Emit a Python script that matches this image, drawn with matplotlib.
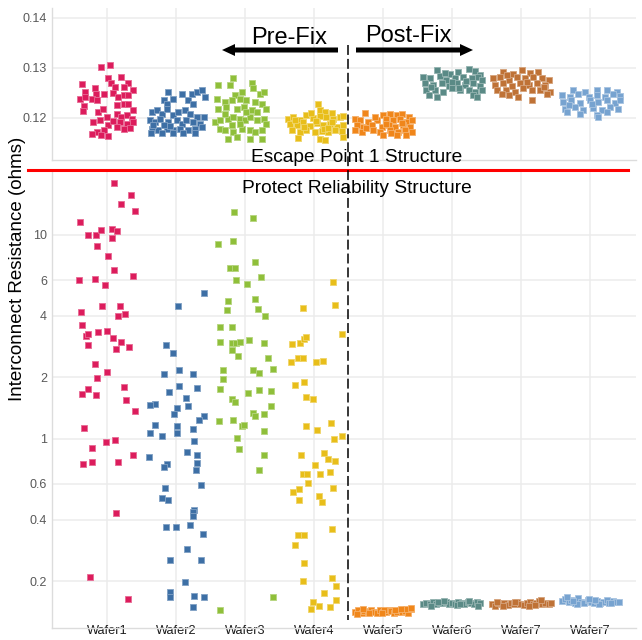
import matplotlib
matplotlib.use("Agg")
import matplotlib.pyplot as plt
import numpy as np
from matplotlib.lines import Line2D
from matplotlib.patches import FancyArrow
from matplotlib.ticker import NullLocator
from matplotlib.colors import to_rgb

plt.rcParams['font.family'] = ['Liberation Sans', 'DejaVu Sans']

# ---------------- data ----------------
wafers = ["Wafer1", "Wafer2", "Wafer3", "Wafer4", "Wafer5", "Wafer6", "Wafer7", "Wafer7"]
colors = ["#dc1c5c", "#3d6fa5", "#8fbf3a", "#e8be1a", "#f0861a", "#5a8a86", "#bf7236", "#77a3d0"]

y_top_ticks = [0.12, 0.13, 0.14]
y_bot_ticks = [0.2, 0.4, 0.6, 1, 2, 4, 6, 10]
y_bot_labels = ["0.2", "0.4", "0.6", "1", "2", "4", "6", "10"]

# Escape Point 1 Structure (top panel): value and horizontal jitter per wafer
w1_top_val = [0.1303,0.1306,0.1268,0.1253,0.1238,0.1224,0.1214,0.1261,0.1248,0.1248,0.1239,0.1236,0.1279,0.1269,0.1263,0.1283,0.1271,0.1263,0.1256,0.1251,0.1243,0.1247,0.1246,0.1226,0.1229,0.1228,0.1216,0.1213,0.1219,0.1193,0.1196,0.1203,0.1186,0.1176,0.1173,0.1169,0.1166,0.1164,0.1209,0.1203,0.1206,0.1199,0.1193,0.1189,0.1193,0.1183,0.1179,0.1181,0.1195,0.1243]
w1_top_jit = [-0.08,0.04,-0.36,-0.32,-0.39,-0.33,-0.35,-0.18,-0.16,-0.05,-0.22,-0.15,0.02,0.06,0.12,0.21,0.30,0.25,0.37,0.09,0.16,0.24,0.31,0.14,0.24,0.31,0.37,-0.13,-0.06,-0.20,-0.10,0.00,0.02,-0.05,-0.15,-0.22,-0.08,0.02,0.14,0.21,0.29,0.36,0.19,0.29,0.38,0.14,0.24,0.33,0.09,-0.32]
w2_top_val = [0.1253,0.1249,0.1249,0.1253,0.1256,0.1243,0.1236,0.1229,0.1239,0.1236,0.1229,0.1213,0.1216,0.1209,0.1219,0.1206,0.1213,0.1216,0.1209,0.1203,0.1203,0.1196,0.1193,0.1199,0.1193,0.1196,0.1189,0.1196,0.1193,0.1189,0.1179,0.1176,0.1179,0.1176,0.1179,0.1176,0.1179,0.1183,0.1186,0.1186,0.1184,0.1170,0.1170,0.1170,0.1170,0.1170]
w2_top_jit = [-0.11,0.08,0.23,0.30,0.37,0.42,-0.18,-0.13,-0.04,0.18,0.25,-0.35,-0.28,-0.21,-0.13,-0.04,0.03,0.13,0.20,0.30,0.40,-0.38,-0.30,-0.23,-0.11,0.01,0.08,0.15,0.25,0.35,-0.35,-0.26,-0.13,-0.04,0.06,0.18,0.28,0.37,-0.33,-0.18,-0.09,-0.36,-0.20,-0.05,0.10,0.27]
w3_top_val = [0.1279,0.1266,0.1266,0.1269,0.1259,0.1253,0.1246,0.1249,0.1253,0.1233,0.1239,0.1236,0.1239,0.1236,0.1233,0.1229,0.1219,0.1223,0.1219,0.1223,0.1216,0.1213,0.1219,0.1193,0.1196,0.1199,0.1203,0.1199,0.1196,0.1203,0.1196,0.1199,0.1189,0.1179,0.1176,0.1173,0.1179,0.1176,0.1173,0.1176,0.1159,0.1163,0.1159,0.1159,0.1189,0.1186,0.1213,0.1209]
w3_top_jit = [-0.17,-0.22,-0.39,0.10,0.12,-0.05,-0.14,0.22,0.27,-0.29,-0.41,-0.19,-0.07,0.02,0.14,0.24,-0.39,-0.27,-0.12,-0.02,0.10,0.17,0.31,-0.43,-0.36,-0.24,-0.17,-0.07,0.00,0.07,0.17,0.27,0.31,-0.36,-0.29,-0.17,-0.05,0.07,0.14,0.24,-0.24,-0.12,0.07,0.24,-0.07,-0.19,0.02,-0.29]
w4_top_val = [0.1229,0.1216,0.1213,0.1211,0.1199,0.1203,0.1197,0.1206,0.1200,0.1204,0.1202,0.1198,0.1203,0.1205,0.1189,0.1186,0.1192,0.1185,0.1190,0.1187,0.1189,0.1183,0.1186,0.1176,0.1173,0.1177,0.1173,0.1175,0.1172,0.1176,0.1174,0.1161,0.1159,0.1156,0.1163,0.1196,0.1195,0.1193,0.1179,0.1210,0.1181,0.1182]
w4_top_jit = [0.06,0.09,0.16,0.26,-0.37,-0.30,-0.20,-0.11,-0.01,0.09,0.18,0.28,0.38,0.42,-0.35,-0.25,-0.16,-0.06,0.04,0.13,0.23,0.33,0.42,-0.32,-0.20,-0.11,0.01,0.11,0.21,0.30,0.40,-0.23,0.09,0.16,0.42,-0.28,0.03,0.26,0.14,-0.05,0.20,-0.15]
w5_top_val = [0.1211,0.1206,0.1209,0.1206,0.1209,0.1203,0.1199,0.1196,0.1193,0.1196,0.1199,0.1196,0.1199,0.1193,0.1196,0.1186,0.1183,0.1186,0.1183,0.1186,0.1183,0.1186,0.1183,0.1176,0.1173,0.1176,0.1173,0.1176,0.1173,0.1176,0.1173,0.1166,0.1166,0.1166,0.1203,0.1189,0.1180,0.1190,0.1170]
w5_top_jit = [-0.26,0.00,0.10,0.20,0.27,0.37,-0.41,-0.33,-0.21,-0.09,0.05,0.15,0.25,0.34,0.42,-0.38,-0.29,-0.16,-0.02,0.08,0.17,0.29,0.39,-0.41,-0.31,-0.14,-0.04,0.10,0.22,0.32,0.42,0.00,0.20,0.34,-0.12,0.05,-0.24,0.28,0.12]
w6_top_val = [0.1296,0.1289,0.1293,0.1299,0.1295,0.1286,0.1283,0.1279,0.1284,0.1276,0.1279,0.1283,0.1279,0.1283,0.1276,0.1269,0.1266,0.1269,0.1264,0.1269,0.1266,0.1269,0.1264,0.1256,0.1257,0.1253,0.1259,0.1256,0.1257,0.1253,0.1256,0.1246,0.1243,0.1246,0.1243,0.1272,0.1290,0.1274,0.1262,0.1261]
w6_top_jit = [-0.22,-0.03,0.09,0.24,0.33,0.41,-0.42,-0.32,-0.17,-0.08,0.04,0.16,0.29,0.38,0.43,-0.39,-0.27,-0.15,-0.05,0.07,0.19,0.31,0.41,-0.37,-0.25,-0.13,0.00,0.12,0.24,0.33,0.43,-0.34,-0.22,0.31,0.36,0.00,-0.10,0.20,-0.30,0.10]
w7_top_val = [0.1293,0.1289,0.1296,0.1291,0.1293,0.1279,0.1283,0.1276,0.1283,0.1279,0.1283,0.1279,0.1276,0.1266,0.1269,0.1264,0.1269,0.1266,0.1269,0.1266,0.1256,0.1257,0.1253,0.1259,0.1256,0.1257,0.1253,0.1246,0.1243,0.1236,0.1249,0.1249,0.1273,0.1287,0.1262]
w7_top_jit = [-0.26,-0.11,0.01,0.13,0.25,-0.40,-0.30,-0.18,-0.06,0.06,0.18,0.30,0.40,-0.38,-0.26,-0.13,-0.01,0.11,0.23,0.35,-0.35,-0.21,-0.09,0.03,0.16,0.28,0.42,-0.18,-0.04,0.16,0.37,-0.28,0.08,-0.20,0.33]
w8_top_val = [0.1257,0.1253,0.1256,0.1257,0.1253,0.1246,0.1243,0.1249,0.1243,0.1246,0.1243,0.1248,0.1244,0.1233,0.1236,0.1231,0.1236,0.1233,0.1236,0.1231,0.1236,0.1219,0.1223,0.1217,0.1221,0.1217,0.1223,0.1219,0.1213,0.1209,0.1206,0.1203,0.1213,0.1228,0.1226]
w8_top_jit = [-0.24,-0.07,0.10,0.24,0.39,-0.41,-0.29,-0.17,-0.02,0.10,0.22,0.34,0.43,-0.39,-0.27,-0.14,0.00,0.12,0.24,0.36,0.44,-0.36,-0.22,-0.10,0.05,0.17,0.29,0.41,-0.34,-0.14,0.10,0.12,0.24,0.03,-0.30]

# Protect Reliability Structure (bottom panel, log scale)
w1_bot_val = [18.0,15.7,14.2,13.1,11.6,10.0,10.0,10.6,10.7,10.4,9.7,8.8,7.9,6.7,6.0,6.1,6.3,5.7,4.5,4.5,4.2,4.0,4.1,3.6,3.2,3.26,3.35,3.38,3.12,2.99,2.87,2.75,2.83,2.32,2.12,1.99,1.80,1.76,1.66,1.64,1.55,1.37,1.13,0.96,0.99,0.90,0.83,0.75,0.77,0.77,0.43,0.21,0.163]
w1_bot_jit = [0.10,0.35,0.21,0.40,-0.39,-0.28,-0.16,-0.08,0.07,0.14,0.07,-0.15,0.01,0.10,-0.40,-0.18,0.37,-0.03,-0.07,0.19,-0.38,0.16,0.26,-0.36,-0.30,-0.28,-0.13,0.00,0.09,0.21,-0.27,0.13,0.32,-0.18,0.00,-0.14,0.24,-0.28,-0.36,-0.16,0.28,0.41,-0.34,-0.01,0.12,-0.22,0.38,-0.35,-0.22,0.16,0.13,-0.24,0.30]
w2_bot_val = [5.16,4.49,2.89,2.62,2.08,2.18,2.08,1.69,1.82,1.78,1.59,1.48,1.46,1.42,1.44,1.30,1.24,1.33,1.17,1.15,1.12,1.07,1.03,1.07,0.98,0.857,0.835,0.816,0.754,0.723,0.763,0.70,0.595,0.571,0.514,0.503,0.445,0.435,0.419,0.379,0.369,0.369,0.343,0.288,0.255,0.255,0.199,0.177,0.168,0.169,0.167,0.150]
w2_bot_jit = [0.40,0.03,-0.15,-0.04,-0.17,0.04,0.25,-0.10,0.04,0.30,0.14,-0.31,-0.38,0.02,0.18,0.40,0.33,-0.03,-0.30,0.01,0.25,-0.37,-0.20,0.01,0.26,0.16,0.30,-0.39,-0.13,-0.18,0.30,0.29,0.36,-0.16,-0.20,-0.11,0.26,0.24,0.25,0.21,-0.14,0.00,0.39,0.16,-0.09,0.36,0.13,-0.08,-0.09,0.26,0.40,0.25]
w3_bot_val = [13.0,12.1,9.03,9.38,7.32,6.89,6.86,6.20,6.02,5.71,4.73,4.86,4.29,4.32,3.98,3.55,3.54,2.98,2.94,2.95,2.99,3.06,2.96,2.73,2.56,2.49,2.21,2.17,2.17,2.11,1.97,1.75,1.73,1.71,1.67,1.57,1.52,1.45,1.22,1.23,1.15,1.17,1.34,1.30,1.32,1.09,1.01,0.886,0.832,0.703,0.168,0.145]
w3_bot_jit = [-0.16,0.11,-0.39,-0.17,0.14,-0.22,-0.14,0.23,-0.13,0.03,-0.24,0.14,-0.26,0.19,0.29,-0.36,-0.19,-0.36,-0.19,-0.13,-0.07,0.06,0.28,-0.19,-0.10,0.33,0.40,-0.32,0.12,0.20,-0.32,-0.36,0.20,0.37,0.05,-0.19,-0.14,0.38,-0.38,-0.17,-0.05,-0.01,0.11,0.15,0.27,0.27,-0.12,-0.09,0.27,0.20,0.40,-0.36]
w4_bot_val = [5.84,4.55,4.37,3.25,2.90,2.94,3.08,3.17,2.38,2.48,2.50,2.38,2.41,1.83,1.89,1.61,1.56,1.19,1.16,1.10,1.00,1.03,0.829,0.854,0.80,0.774,0.74,0.674,0.672,0.669,0.689,0.604,0.548,0.564,0.571,0.521,0.491,0.502,0.362,0.336,0.336,0.300,0.245,0.2006,0.208,0.189,0.175,0.162,0.159,0.146,0.151,0.150]
w4_bot_jit = [0.27,0.30,-0.16,0.40,-0.32,-0.20,-0.14,-0.12,-0.33,-0.23,-0.16,0.03,0.13,-0.28,-0.14,-0.12,-0.01,0.24,-0.12,0.05,0.29,0.41,-0.19,0.15,0.21,0.31,0.02,-0.16,-0.10,0.08,0.23,-0.08,-0.30,-0.22,0.28,0.07,0.11,-0.22,0.26,-0.23,-0.15,-0.28,-0.14,-0.16,0.26,0.32,0.15,0.32,-0.02,-0.04,0.07,0.23]
w5_bot_val = [0.141,0.144,0.139,0.143,0.141,0.145,0.142,0.140,0.144,0.142,0.141,0.145,0.143,0.139,0.142,0.144,0.141,0.143,0.140,0.146,0.138,0.139,0.145,0.144,0.146,0.148,0.146,0.139,0.147]
w5_bot_jit = [-0.41,-0.36,-0.31,-0.27,-0.22,-0.18,-0.13,-0.09,-0.05,0.00,0.04,0.08,0.12,0.16,0.20,0.24,0.28,0.32,0.36,0.40,-0.38,-0.20,0.02,0.18,0.34,0.41,-0.29,-0.02,0.26]
w6_bot_val = [0.154,0.157,0.155,0.158,0.154,0.157,0.156,0.159,0.155,0.157,0.154,0.158,0.156,0.155,0.158,0.156,0.154,0.159,0.156,0.152,0.160,0.153,0.160,0.152,0.158,0.155]
w6_bot_jit = [-0.42,-0.37,-0.32,-0.28,-0.23,-0.18,-0.14,-0.09,-0.04,0.00,0.05,0.09,0.14,0.18,0.23,0.27,0.32,0.36,0.41,-0.30,-0.12,0.07,0.25,0.38,-0.20,0.12]
w7_bot_val = [0.155,0.152,0.156,0.154,0.157,0.153,0.156,0.154,0.158,0.155,0.153,0.157,0.159,0.154,0.156,0.160,0.155,0.157,0.154,0.151,0.159,0.152,0.161,0.156,0.158,0.153]
w7_bot_jit = [-0.42,-0.37,-0.33,-0.28,-0.24,-0.19,-0.15,-0.10,-0.06,-0.01,0.04,0.08,0.13,0.17,0.22,0.26,0.31,0.35,0.40,-0.26,-0.08,0.11,0.29,0.43,-0.35,0.20]
w8_bot_val = [0.160,0.164,0.158,0.162,0.157,0.165,0.159,0.156,0.161,0.158,0.157,0.160,0.156,0.159,0.161,0.157,0.160,0.158,0.159,0.167,0.155,0.163,0.154,0.156,0.160,0.162]
w8_bot_jit = [-0.41,-0.36,-0.31,-0.27,-0.22,-0.17,-0.13,-0.08,-0.03,0.01,0.06,0.10,0.15,0.19,0.24,0.28,0.33,0.37,0.42,-0.33,-0.19,-0.01,0.13,0.30,-0.25,0.08]

top_sets = [(w1_top_val, w1_top_jit), (w2_top_val, w2_top_jit), (w3_top_val, w3_top_jit),
            (w4_top_val, w4_top_jit), (w5_top_val, w5_top_jit), (w6_top_val, w6_top_jit),
            (w7_top_val, w7_top_jit), (w8_top_val, w8_top_jit)]
bot_sets = [(w1_bot_val, w1_bot_jit), (w2_bot_val, w2_bot_jit), (w3_bot_val, w3_bot_jit),
            (w4_bot_val, w4_bot_jit), (w5_bot_val, w5_bot_jit), (w6_bot_val, w6_bot_jit),
            (w7_bot_val, w7_bot_jit), (w8_bot_val, w8_bot_jit)]

# ---------------- layout ----------------
W, H = 642, 640
fig = plt.figure(figsize=(W / 100, H / 100), dpi=100)
fig.patch.set_facecolor("white")

def fx(px):
    return px / W

def fy(py):
    return 1 - py / H

ax_top = fig.add_axes([fx(52), fy(160), fx(636) - fx(52), fy(8) - fy(160)])
ax_bot = fig.add_axes([fx(52), fy(628), fx(636) - fx(52), fy(170) - fy(628)])

def lighten(c, f=0.35):
    r, g, b = to_rgb(c)
    return (r + (1 - r) * f, g + (1 - g) * f, b + (1 - b) * f)

for ax in (ax_top, ax_bot):
    ax.set_xlim(-0.797, 7.667)
    ax.set_xticks(range(len(wafers)))
    for s in ("top", "right"):
        ax.spines[s].set_visible(False)
    for s in ("left", "bottom"):
        ax.spines[s].set_color("#dcdcdc")
        ax.spines[s].set_linewidth(1.0)
    ax.grid(True, color="#ececec", linewidth=1.1)
    ax.set_axisbelow(True)
    ax.tick_params(length=0)
    ax.tick_params(axis="y", labelsize=9, labelcolor="#595959", pad=3.5)

ax_top.set_ylim(0.1116, 0.142)
ax_top.set_yticks(y_top_ticks)
ax_top.set_yticklabels(["%.2f" % v for v in y_top_ticks])
ax_top.set_xticklabels([])

ax_bot.set_yscale("log")
ax_bot.set_ylim(0.118, 20.8)
ax_bot.set_yticks(y_bot_ticks)
ax_bot.set_yticklabels(y_bot_labels)
ax_bot.yaxis.set_minor_locator(NullLocator())
ax_bot.set_xticklabels(wafers, fontsize=9.2, color="#1a1a1a")
ax_bot.tick_params(axis="x", pad=-2.5)

for i, ((tv, tj), (bv, bj)) in enumerate(zip(top_sets, bot_sets)):
    n = min(len(tv), len(tj))
    ax_top.scatter(i + np.array(tj[:n]), tv[:n], marker="s", s=17, color=colors[i],
                   edgecolors=lighten(colors[i]), linewidths=0.6, zorder=3)
    n = min(len(bv), len(bj))
    ax_bot.scatter(i + np.array(bj[:n]), bv[:n], marker="s", s=17, color=colors[i],
                   edgecolors=lighten(colors[i]), linewidths=0.6, zorder=3)

# ---------------- annotations ----------------
fig.text(fx(18), fy(269), "Interconnect Resistance (ohms)", rotation=90,
         ha="center", va="center", fontsize=13.5, color="black")
fig.text(fx(356.5), fy(162), "Escape Point 1 Structure", ha="center", va="baseline",
         fontsize=13.8, color="black")
fig.text(fx(356.5), fy(193), "Protect Reliability Structure", ha="center", va="baseline",
         fontsize=13.8, color="black")
fig.text(fx(289), fy(44), "Pre-Fix", ha="center", va="baseline", fontsize=17, color="black")
fig.text(fx(408), fy(42), "Post-Fix", ha="center", va="baseline", fontsize=17, color="black")

fig.add_artist(Line2D([fx(28), fx(628)], [fy(170), fy(170)], color="#ff0000", lw=2.2))
fig.add_artist(Line2D([fx(348), fx(348)], [fy(45), fy(620)], color="black", lw=1.1,
                      linestyle=(0, (6.5, 2.6))))

fig.add_artist(FancyArrow(fx(338), fy(50), fx(222) - fx(338), 0, width=5 / H,
                          head_width=12 / H, head_length=13 / W, length_includes_head=True,
                          transform=fig.transFigure, color="black", lw=0))
fig.add_artist(FancyArrow(fx(356), fy(50), fx(473) - fx(356), 0, width=5 / H,
                          head_width=12 / H, head_length=13 / W, length_includes_head=True,
                          transform=fig.transFigure, color="black", lw=0))

fig.savefig("out.png", dpi=100)
